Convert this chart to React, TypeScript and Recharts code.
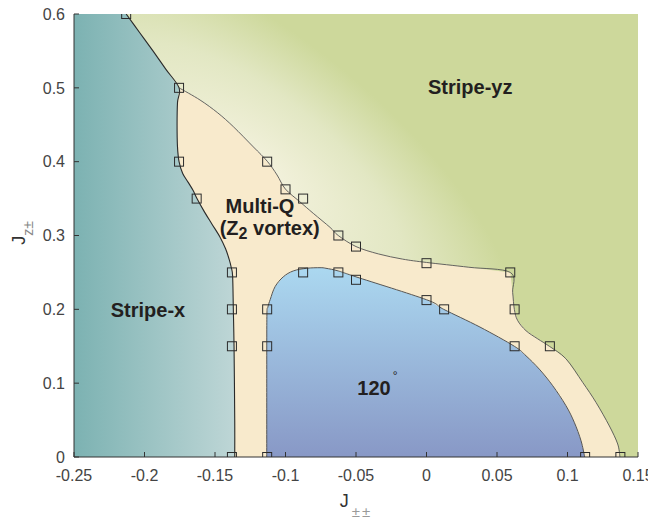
import React from 'react';
import { ComposedChart, Area, Line, Scatter, XAxis, YAxis } from 'recharts';

type Pt = { x: number; y: number };

const xTicks = [-0.25, -0.2, -0.15, -0.1, -0.05, 0, 0.05, 0.1, 0.15];
const xTickLabels = ['-0.25', '-0.2', '-0.15', '-0.1', '-0.05', '0', '0.05', '0.1', '0.15'];
const yTicks = [0, 0.1, 0.2, 0.3, 0.4, 0.5, 0.6];
const yTickLabels = ['0', '0.1', '0.2', '0.3', '0.4', '0.5', '0.6'];

const plotFrame: Pt[] = [
  { x: -0.25, y: 0 }, { x: -0.25, y: 0.6 }, { x: 0.15, y: 0.6 }, { x: 0.15, y: 0 },
];

// Stripe-x | (Stripe-yz, Multi-Q) boundary, top to bottom
const stripeXBoundary: Pt[] = [
  { x: -0.213, y: 0.6 },
  { x: -0.2035, y: 0.575 },
  { x: -0.194, y: 0.55 },
  { x: -0.1848, y: 0.525 },
  { x: -0.1755, y: 0.5 },
  { x: -0.1766, y: 0.48 },
  { x: -0.1769, y: 0.45 },
  { x: -0.1766, y: 0.42 },
  { x: -0.1755, y: 0.4 },
  { x: -0.1729, y: 0.384 },
  { x: -0.169, y: 0.372 },
  { x: -0.1655, y: 0.361 },
  { x: -0.1628, y: 0.35 },
  { x: -0.1575, y: 0.332 },
  { x: -0.152, y: 0.315 },
  { x: -0.1465, y: 0.298 },
  { x: -0.1425, y: 0.282 },
  { x: -0.14, y: 0.268 },
  { x: -0.1385, y: 0.257 },
  { x: -0.1375, y: 0.245 },
  { x: -0.137, y: 0.2 },
  { x: -0.1365, y: 0.15 },
  { x: -0.136, y: 0.05 },
  { x: -0.136, y: 0 },
];

// Multi-Q | Stripe-yz boundary
const multiQBoundary: Pt[] = [
  { x: -0.1755, y: 0.5 },
  { x: -0.1606, y: 0.4835 },
  { x: -0.148, y: 0.466 },
  { x: -0.137, y: 0.4474 },
  { x: -0.1228, y: 0.42 },
  { x: -0.1129, y: 0.4005 },
  { x: -0.106, y: 0.382 },
  { x: -0.1001, y: 0.363 },
  { x: -0.09, y: 0.346 },
  { x: -0.0803, y: 0.33 },
  { x: -0.0684, y: 0.311 },
  { x: -0.0626, y: 0.3 },
  { x: -0.05, y: 0.285 },
  { x: -0.034, y: 0.275 },
  { x: -0.0169, y: 0.268 },
  { x: 0, y: 0.2635 },
  { x: 0.03, y: 0.257 },
  { x: 0.0594, y: 0.25 },
  { x: 0.0611, y: 0.223 },
  { x: 0.0623, y: 0.2 },
  { x: 0.0646, y: 0.185 },
  { x: 0.0706, y: 0.171 },
  { x: 0.0789, y: 0.16 },
  { x: 0.0871, y: 0.15 },
  { x: 0.0989, y: 0.133 },
  { x: 0.1108, y: 0.101 },
  { x: 0.1202, y: 0.074 },
  { x: 0.1297, y: 0.042 },
  { x: 0.1356, y: 0.0176 },
  { x: 0.1372, y: 0 },
];

// 120 degree | Multi-Q boundary
const phase120Boundary: Pt[] = [
  { x: -0.1133, y: 0 },
  { x: -0.1133, y: 0.1 },
  { x: -0.1132, y: 0.19 },
  { x: -0.1125, y: 0.203 },
  { x: -0.1108, y: 0.2135 },
  { x: -0.1074, y: 0.2307 },
  { x: -0.1016, y: 0.244 },
  { x: -0.0945, y: 0.252 },
  { x: -0.085, y: 0.2556 },
  { x: -0.0755, y: 0.2564 },
  { x: -0.0713, y: 0.2556 },
  { x: -0.0626, y: 0.252 },
  { x: -0.05, y: 0.244 },
  { x: 0, y: 0.213 },
  { x: 0.0122, y: 0.2 },
  { x: 0.0379, y: 0.176 },
  { x: 0.0623, y: 0.15 },
  { x: 0.0706, y: 0.137 },
  { x: 0.08, y: 0.119 },
  { x: 0.0895, y: 0.0966 },
  { x: 0.0989, y: 0.0695 },
  { x: 0.1048, y: 0.047 },
  { x: 0.1096, y: 0.022 },
  { x: 0.1122, y: 0 },
];

// computed (J±±, Jz±) points
const simulatedPoints: Pt[] = [
  { x: -0.213, y: 0.6 }, { x: -0.1755, y: 0.5 }, { x: -0.1755, y: 0.4 }, { x: -0.163, y: 0.35 },
  { x: -0.138, y: 0.25 }, { x: -0.138, y: 0.2 }, { x: -0.138, y: 0.15 }, { x: -0.138, y: 0 },
  { x: -0.113, y: 0.4 }, { x: -0.1, y: 0.3625 }, { x: -0.0875, y: 0.35 },
  { x: -0.113, y: 0.2 }, { x: -0.113, y: 0.15 }, { x: -0.113, y: 0 },
  { x: -0.0875, y: 0.25 }, { x: -0.0625, y: 0.3 }, { x: -0.05, y: 0.285 },
  { x: -0.0625, y: 0.25 }, { x: -0.05, y: 0.24 }, { x: 0, y: 0.2625 }, { x: 0.0594, y: 0.25 },
  { x: 0, y: 0.2125 }, { x: 0.0125, y: 0.2 }, { x: 0.0625, y: 0.2 }, { x: 0.0625, y: 0.15 },
  { x: 0.0875, y: 0.15 }, { x: 0.1125, y: 0 }, { x: 0.1375, y: 0 },
];

const phaseLabels = [
  { x: 0.031, y: 0.491, text: 'Stripe-yz', anchor: 'middle' },
  { x: -0.1181, y: 0.33, text: 'Multi-Q', anchor: 'middle' },
  { x: -0.1112, y: 0.3007, text: '(Z', sub: '2', rest: ' vortex)', anchor: 'middle' },
  { x: -0.1975, y: 0.1892, text: 'Stripe-x', anchor: 'middle' },
  { x: -0.0491, y: 0.084, text: '120', sup: '°', anchor: 'start' },
];

// polygons built from the boundaries
const stripeXArea: Pt[] = [{ x: -0.25, y: 0 }, { x: -0.25, y: 0.6 }, ...stripeXBoundary];
const multiQArea: Pt[] = [
  { x: -0.18, y: 0 },
  ...stripeXBoundary.slice(4).reverse(),
  ...multiQBoundary.slice(1),
];

const FONT = '"Liberation Sans", Arial, Helvetica, sans-serif';

function catmullRom(context: any) {
  let xs: number[] = [];
  let ys: number[] = [];
  let line = NaN;
  return {
    areaStart() { line = 0; },
    areaEnd() { line = NaN; },
    lineStart() { xs = []; ys = []; },
    lineEnd() {
      const n = xs.length;
      if (n) {
        if (line) context.lineTo(xs[0], ys[0]);
        else context.moveTo(xs[0], ys[0]);
        if (n === 2) context.lineTo(xs[1], ys[1]);
        else if (n > 2) {
          for (let i = 0; i < n - 1; i++) {
            const a = Math.max(i - 1, 0);
            const d = Math.min(i + 2, n - 1);
            context.bezierCurveTo(
              xs[i] + (xs[i + 1] - xs[a]) / 6,
              ys[i] + (ys[i + 1] - ys[a]) / 6,
              xs[i + 1] - (xs[d] - xs[i]) / 6,
              ys[i + 1] - (ys[d] - ys[i]) / 6,
              xs[i + 1],
              ys[i + 1],
            );
          }
        }
      }
      if (line || (line !== 0 && n === 1)) context.closePath();
      line = 1 - line;
    },
    point(x: number, y: number) { xs.push(+x); ys.push(+y); },
  };
}

const Square = (props: any) => {
  const { cx, cy } = props;
  if (cx == null || cy == null) return <g />;
  return <rect x={cx - 4.5} y={cy - 4.5} width={9} height={9} fill="none" stroke="#2b2b2b" strokeWidth={1} />;
};

const PhaseLabel = (props: any) => {
  const { cx, cy, payload } = props;
  if (cx == null || cy == null) return <g />;
  return (
    <text x={cx} y={cy} textAnchor={payload.anchor} fontFamily={FONT} fontWeight="bold" fontSize={20} fill="#231f20">
      <tspan>{payload.text}</tspan>
      {payload.sub ? <tspan fontSize={16} dy={4}>{payload.sub}</tspan> : null}
      {payload.rest ? <tspan dy={-4}>{payload.rest}</tspan> : null}
      {payload.sup ? <tspan fontSize={12} fontWeight="normal" dx={2} dy={-15}>{payload.sup}</tspan> : null}
    </text>
  );
};

const XTitle = (props: any) => {
  const vb = props.viewBox || { x: 74, y: 457, width: 564, height: 62 };
  const cx = vb.x + vb.width / 2;
  return (
    <text x={cx} y={vb.y + 50} textAnchor="middle" fontFamily={FONT}>
      <tspan fontSize={18} fill="#333">J</tspan>
      <tspan fontSize={15} fill="#9a9a9a" dx={3} dy={10} letterSpacing={2}>±±</tspan>
    </text>
  );
};

const YTitle = (props: any) => {
  const vb = props.viewBox || { x: 24, y: 14, width: 50, height: 443 };
  const cx = vb.x + 1;
  const cy = vb.y + vb.height / 2 - 2.5;
  return (
    <text x={cx} y={cy} textAnchor="middle" fontFamily={FONT} transform={`rotate(-90 ${cx} ${cy})`}>
      <tspan fontSize={18} fill="#333">J</tspan>
      <tspan fontSize={14} fill="#888" dy={8}>z±</tspan>
    </text>
  );
};

const tickStyle = { fontSize: 16, fill: '#444', fontFamily: FONT };
const fmtX = (v: number) => xTickLabels[xTicks.findIndex((t) => Math.abs(t - v) < 1e-9)] ?? String(v);
const fmtY = (v: number) => yTickLabels[yTicks.findIndex((t) => Math.abs(t - v) < 1e-9)] ?? String(v);

export default function App() {
  return (
    <div style={{ width: 656, height: 519, margin: '-8px 0 0 -8px' }}>
      <ComposedChart width={656} height={519} margin={{ top: 14, right: 18, left: 24, bottom: 0 }}>
        <defs>
          <radialGradient id="gYZ" gradientUnits="userSpaceOnUse" cx={0} cy={0} r={1}
            gradientTransform="translate(258,168) rotate(39) scale(320,130)">
            <stop offset="0" stopColor="#f4f2de" />
            <stop offset="0.55" stopColor="#e2e7c3" />
            <stop offset="1" stopColor="#cdd89b" />
          </radialGradient>
          <linearGradient id="gX" x1="0" y1="0" x2="1" y2="0">
            <stop offset="0" stopColor="#7cb2b2" />
            <stop offset="1" stopColor="#bed6d6" />
          </linearGradient>
          <linearGradient id="g120" x1="0" y1="0" x2="0" y2="1">
            <stop offset="0" stopColor="#abd8f0" />
            <stop offset="1" stopColor="#8898c6" />
          </linearGradient>
        </defs>

        <Area data={plotFrame} dataKey="y" type="linear" stroke="none" fill="url(#gYZ)" fillOpacity={1} isAnimationActive={false} activeDot={false} />
        <Area data={multiQArea} dataKey="y" type="linear" stroke="none" fill="#f8eacc" fillOpacity={1} isAnimationActive={false} activeDot={false} />
        <Area data={stripeXArea} dataKey="y" type="linear" stroke="none" fill="url(#gX)" fillOpacity={1} isAnimationActive={false} activeDot={false} />
        <Area data={phase120Boundary} dataKey="y" type="linear" stroke="none" fill="url(#g120)" fillOpacity={1} isAnimationActive={false} activeDot={false} />

        <Line data={phase120Boundary} dataKey="y" type={catmullRom as any} stroke="#555" strokeWidth={1} dot={false} activeDot={false} isAnimationActive={false} />
        <Line data={multiQBoundary} dataKey="y" type={catmullRom as any} stroke="#555" strokeWidth={0.9} dot={false} activeDot={false} isAnimationActive={false} />
        <Line data={stripeXBoundary} dataKey="y" type={catmullRom as any} stroke="#2a2a2a" strokeWidth={1.1} dot={false} activeDot={false} isAnimationActive={false} />

        <XAxis type="number" dataKey="x" domain={[-0.25, 0.15]} ticks={xTicks} interval={0} allowDataOverflow
          height={62} tickSize={-5} tickMargin={18} tickFormatter={fmtX} tick={tickStyle}
          axisLine={{ stroke: '#333' }} tickLine={{ stroke: '#333' }} label={XTitle} />
        <XAxis xAxisId="top" orientation="top" type="number" dataKey="x" domain={[-0.25, 0.15]} ticks={xTicks} interval={0}
          allowDataOverflow height={0} tickSize={-5} tick={() => <g />} axisLine={{ stroke: '#666' }} tickLine={{ stroke: '#666' }} />
        <YAxis type="number" domain={[0, 0.6]} ticks={yTicks} interval={0} allowDataOverflow width={50}
          tickSize={-5} tickMargin={14} tickFormatter={fmtY} tick={tickStyle}
          axisLine={{ stroke: '#333' }} tickLine={{ stroke: '#333' }} label={YTitle} />
        <YAxis yAxisId="right" orientation="right" type="number" domain={[0, 0.6]} ticks={yTicks} interval={0}
          allowDataOverflow width={0} tickSize={-5} tick={() => <g />} axisLine={{ stroke: '#666' }} tickLine={{ stroke: '#666' }} />

        <Scatter data={simulatedPoints} dataKey="y" shape={Square} isAnimationActive={false} />
        <Scatter data={phaseLabels} dataKey="y" shape={PhaseLabel} isAnimationActive={false} />
      </ComposedChart>
    </div>
  );
}
